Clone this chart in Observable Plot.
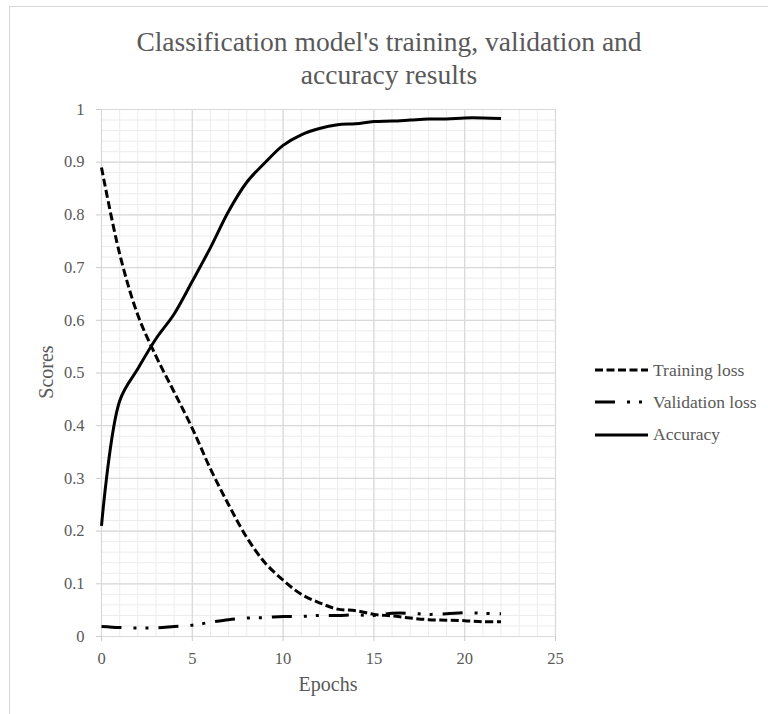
<!DOCTYPE html>
<html>
<head>
<meta charset="utf-8">
<script src="https://cdn.jsdelivr.net/npm/d3@7"></script>
<script src="https://cdn.jsdelivr.net/npm/@observablehq/plot@0.6"></script>
<style>
  html, body { margin: 0; padding: 0; background: #fff; }
  #wrap { position: relative; width: 768px; height: 714px; overflow: hidden; font-family: "Liberation Serif", "Times New Roman", serif; color: #595959; }
  #frame { position: absolute; left: 9px; top: 6px; right: -5px; bottom: -5px; border-top: 1.5px solid #d9d9d9; border-left: 1.5px solid #d9d9d9; }
  #chart { position: absolute; left: 0; top: 0; }
  #title { position: absolute; left: 10px; width: 758px; top: 25px; text-align: center; font-size: 27.5px; line-height: 33px; color: #595959; }
  .axtitle { position: absolute; font-size: 20px; color: #595959; white-space: nowrap; }
  .leg { position: absolute; left: 595px; height: 20px; display: flex; align-items: center; font-size: 17.5px; color: #595959; white-space: nowrap; }
  .leg svg { margin-right: 5px; }
</style>
</head>
<body>
<div id="wrap">
  <div id="frame"></div>
  <div id="chart"></div>
  <div id="title">Classification model's training, validation and<br>accuracy results</div>
  <div class="axtitle" id="ylab" style="left:46px; top:372px; transform: translate(-50%,-50%) rotate(-90deg);">Scores</div>
  <div class="axtitle" id="xlab" style="left:328px; top:684px; transform: translate(-50%,-50%);">Epochs</div>
  <div id="legend"></div>
</div>
<script>
// ---- data ----
const epochs = [0, 1, 2, 3, 4, 5, 6, 7, 8, 9, 10, 11, 12, 13, 14, 15, 16, 17, 18, 19, 20, 21, 22];
const trainingLoss = [0.89, 0.726, 0.61, 0.532, 0.464, 0.395, 0.318, 0.25, 0.188, 0.14, 0.107, 0.08, 0.064, 0.052, 0.049, 0.042, 0.039, 0.035, 0.032, 0.031, 0.030, 0.028, 0.028];
const validationLoss = [0.019, 0.017, 0.016, 0.0165, 0.019, 0.0215, 0.027, 0.032, 0.035, 0.036, 0.038, 0.038, 0.040, 0.040, 0.041, 0.040, 0.044, 0.044, 0.042, 0.043, 0.045, 0.044, 0.043];
const accuracy = [0.21, 0.447, 0.508, 0.565, 0.612, 0.674, 0.738, 0.807, 0.862, 0.899, 0.932, 0.952, 0.964, 0.971, 0.973, 0.977, 0.978, 0.980, 0.982, 0.982, 0.984, 0.984, 0.983];

const seriesNames = ["Training loss", "Validation loss", "Accuracy"];
const seriesDash = {"Training loss": "8,3.5", "Validation loss": "20,12,3,9,3,10", "Accuracy": null};

const xTicks = [0, 5, 10, 15, 20, 25];
const xTickLabels = ["0", "5", "10", "15", "20", "25"];
const yTicks = [0, 0.1, 0.2, 0.3, 0.4, 0.5, 0.6, 0.7, 0.8, 0.9, 1];
const yTickLabels = ["0", "0.1", "0.2", "0.3", "0.4", "0.5", "0.6", "0.7", "0.8", "0.9", "1"];
const xMinor = d3.range(0, 25.001, 1);
const yMinor = d3.range(0, 51).map(i => i / 50);

// ---- build table ----
const seriesValues = [trainingLoss, validationLoss, accuracy];
const table = [];
seriesNames.forEach((name, s) => {
  epochs.forEach((e, i) => table.push({series: name, epoch: e, value: seriesValues[s][i]}));
});

const font = '"Liberation Serif", "Times New Roman", serif';

const chart = Plot.plot({
  width: 768,
  height: 714,
  marginLeft: 101,
  marginRight: 213,
  marginTop: 109,
  marginBottom: 78,
  style: {fontFamily: font, background: "transparent", overflow: "visible"},
  x: {domain: [0, 25]},
  y: {domain: [0, 1]},
  marks: [
    Plot.ruleX(xMinor, {stroke: "#ececec", strokeWidth: 1}),
    Plot.ruleY(yMinor, {stroke: "#ececec", strokeWidth: 1}),
    Plot.ruleX(xTicks, {stroke: "#d9d9d9", strokeWidth: 1.2}),
    Plot.ruleY(yTicks, {stroke: "#d9d9d9", strokeWidth: 1.2}),
    Plot.axisX({ticks: xTicks, tickFormat: (d) => xTickLabels[xTicks.indexOf(d)], tickSize: 5, tickPadding: 11, fontSize: 16.5, stroke: "#cccccc", fill: "#595959", label: null}),
    Plot.axisY({ticks: yTicks, tickFormat: (d) => yTickLabels[yTicks.indexOf(d)], tickSize: 5, tickPadding: 12, fontSize: 16.5, stroke: "#cccccc", fill: "#595959", label: null}),
    ...seriesNames.map(name => Plot.line(table.filter(d => d.series === name), {
      x: "epoch", y: "value", stroke: "#000", strokeWidth: 3,
      strokeDasharray: seriesDash[name] || undefined,
      strokeLinecap: "butt", curve: "catmull-rom"
    }))
  ]
});
document.getElementById("chart").appendChild(chart);

// ---- legend ----
const legendTops = [370, 402, 434.5];
const legend = document.getElementById("legend");
seriesNames.forEach((name, i) => {
  const row = document.createElement("div");
  row.className = "leg";
  row.style.top = (legendTops[i] - 10) + "px";
  const dash = seriesDash[name] ? `stroke-dasharray="${seriesDash[name]}"` : "";
  row.innerHTML = `<svg width="53" height="10"><line x1="0" x2="53" y1="5" y2="5" stroke="#000" stroke-width="3" ${dash}/></svg><span>${name}</span>`;
  legend.appendChild(row);
});
</script>
</body>
</html>
